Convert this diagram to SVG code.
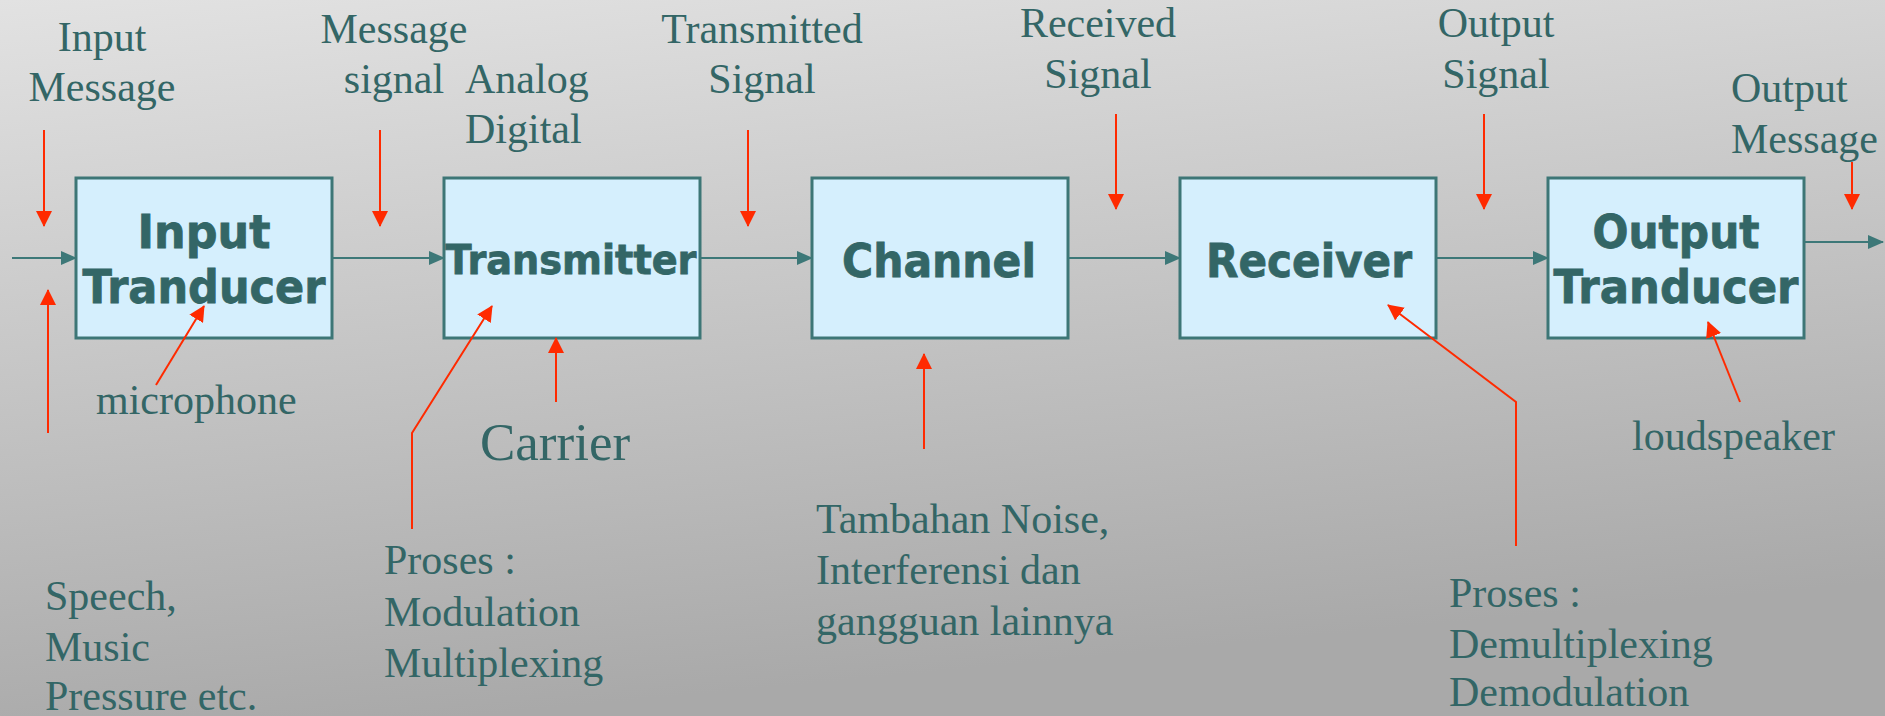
<svg xmlns="http://www.w3.org/2000/svg" width="1885" height="716" viewBox="0 0 1885 716">
  <defs>
    <linearGradient id="bg" x1="0" y1="0" x2="0.25" y2="1">
      <stop offset="0" stop-color="#e2e2e2"/>
      <stop offset="1" stop-color="#a9a9a9"/>
    </linearGradient>
    <marker id="flowHead" viewBox="0 0 16 14" refX="15" refY="7" markerWidth="16" markerHeight="14" markerUnits="userSpaceOnUse" orient="auto">
      <path d="M0,0 L16,7 L0,14 Z" fill="#3d7878"/>
    </marker>
    <marker id="noteHead" viewBox="0 0 16 16" refX="15" refY="8" markerWidth="16" markerHeight="16" markerUnits="userSpaceOnUse" orient="auto">
      <path d="M0,0 L16,8 L0,16 Z" fill="#ff2a00"/>
    </marker>
  </defs>
  <style>
    .block { fill: #d5effd; stroke: #3d7676; stroke-width: 3; }
    .title { font-family: "DejaVu Sans", Verdana, sans-serif; font-weight: bold; font-size: 46px; fill: #336666; stroke: #336666; stroke-width: 0.8; text-anchor: middle; }
    .lbl { font-family: "Liberation Serif", "Times New Roman", serif; font-size: 42px; fill: #336666; }
    .mid { text-anchor: middle; }
    .flow { fill: none; stroke: #3d7878; stroke-width: 2; marker-end: url(#flowHead); }
    .note { fill: none; stroke: #ff2a00; stroke-width: 2; marker-end: url(#noteHead); }
  </style>

  <rect x="0" y="0" width="1885" height="716" fill="url(#bg)"/>

  <!-- signal chain blocks -->
  <g id="input-transducer">
    <rect class="block" x="76" y="178" width="256" height="160"/>
    <text class="title" x="204" y="248" textLength="133" lengthAdjust="spacingAndGlyphs">Input</text>
    <text class="title" x="204" y="303" textLength="243" lengthAdjust="spacingAndGlyphs">Tranducer</text>
  </g>
  <g id="transmitter">
    <rect class="block" x="444" y="178" width="256" height="160"/>
    <text class="title" x="571" y="274" style="font-size:40px" textLength="251" lengthAdjust="spacingAndGlyphs">Transmitter</text>
  </g>
  <g id="channel">
    <rect class="block" x="812" y="178" width="256" height="160"/>
    <text class="title" x="939" y="277" textLength="194" lengthAdjust="spacingAndGlyphs">Channel</text>
  </g>
  <g id="receiver">
    <rect class="block" x="1180" y="178" width="256" height="160"/>
    <text class="title" x="1309" y="277" textLength="206" lengthAdjust="spacingAndGlyphs">Receiver</text>
  </g>
  <g id="output-transducer">
    <rect class="block" x="1548" y="178" width="256" height="160"/>
    <text class="title" x="1676" y="248" textLength="167" lengthAdjust="spacingAndGlyphs">Output</text>
    <text class="title" x="1676" y="303" textLength="245" lengthAdjust="spacingAndGlyphs">Tranducer</text>
  </g>

  <!-- connectors between blocks -->
  <g id="connectors">
    <line class="flow" x1="12" y1="258" x2="76" y2="258"/>
    <line class="flow" x1="332" y1="258" x2="444" y2="258"/>
    <line class="flow" x1="700" y1="258" x2="812" y2="258"/>
    <line class="flow" x1="1068" y1="258" x2="1180" y2="258"/>
    <line class="flow" x1="1436" y1="258" x2="1548" y2="258"/>
    <line class="flow" x1="1804" y1="242" x2="1883" y2="242"/>
  </g>

  <!-- annotation pointers -->
  <g id="pointers">
    <line class="note" x1="44" y1="130" x2="44" y2="226"/>
    <line class="note" x1="380" y1="130" x2="380" y2="226"/>
    <line class="note" x1="748" y1="130" x2="748" y2="226"/>
    <line class="note" x1="1116" y1="114" x2="1116" y2="209"/>
    <line class="note" x1="1484" y1="114" x2="1484" y2="209"/>
    <line class="note" x1="1852" y1="162" x2="1852" y2="209"/>
    <line class="note" x1="48" y1="433" x2="48" y2="290"/>
    <line class="note" x1="156" y1="385" x2="204" y2="306"/>
    <polyline class="note" points="412,529 412,433 492,306"/>
    <line class="note" x1="556" y1="402" x2="556" y2="338"/>
    <line class="note" x1="924" y1="449" x2="924" y2="354"/>
    <polyline class="note" points="1516,546 1516,402 1388,305"/>
    <line class="note" x1="1740" y1="402" x2="1708" y2="322"/>
  </g>

  <!-- signal names above the chain -->
  <g id="top-labels">
    <text class="lbl mid" x="102" y="51">Input</text>
    <text class="lbl mid" x="102" y="101">Message</text>
    <text class="lbl mid" x="394" y="43">Message</text>
    <text class="lbl mid" x="394" y="93">signal</text>
    <text class="lbl" x="465" y="93">Analog</text>
    <text class="lbl" x="465" y="143">Digital</text>
    <text class="lbl mid" x="762" y="43">Transmitted</text>
    <text class="lbl mid" x="762" y="93">Signal</text>
    <text class="lbl mid" x="1098" y="37">Received</text>
    <text class="lbl mid" x="1098" y="88">Signal</text>
    <text class="lbl mid" x="1496" y="37">Output</text>
    <text class="lbl mid" x="1496" y="88">Signal</text>
    <text class="lbl" x="1731" y="102">Output</text>
    <text class="lbl" x="1731" y="153">Message</text>
  </g>

  <!-- notes below the chain -->
  <g id="bottom-labels">
    <text class="lbl" x="96" y="414">microphone</text>
    <text class="lbl" x="480" y="460" style="font-size:53px">Carrier</text>
    <text class="lbl" x="45" y="610">Speech,</text>
    <text class="lbl" x="45" y="661">Music</text>
    <text class="lbl" x="45" y="710">Pressure etc.</text>
    <text class="lbl" x="384" y="574">Proses :</text>
    <text class="lbl" x="384" y="626">Modulation</text>
    <text class="lbl" x="384" y="677">Multiplexing</text>
    <text class="lbl" x="816" y="533">Tambahan Noise,</text>
    <text class="lbl" x="816" y="584">Interferensi dan</text>
    <text class="lbl" x="816" y="635">gangguan lainnya</text>
    <text class="lbl" x="1632" y="450">loudspeaker</text>
    <text class="lbl" x="1449" y="607">Proses :</text>
    <text class="lbl" x="1449" y="658">Demultiplexing</text>
    <text class="lbl" x="1449" y="706">Demodulation</text>
  </g>
</svg>
